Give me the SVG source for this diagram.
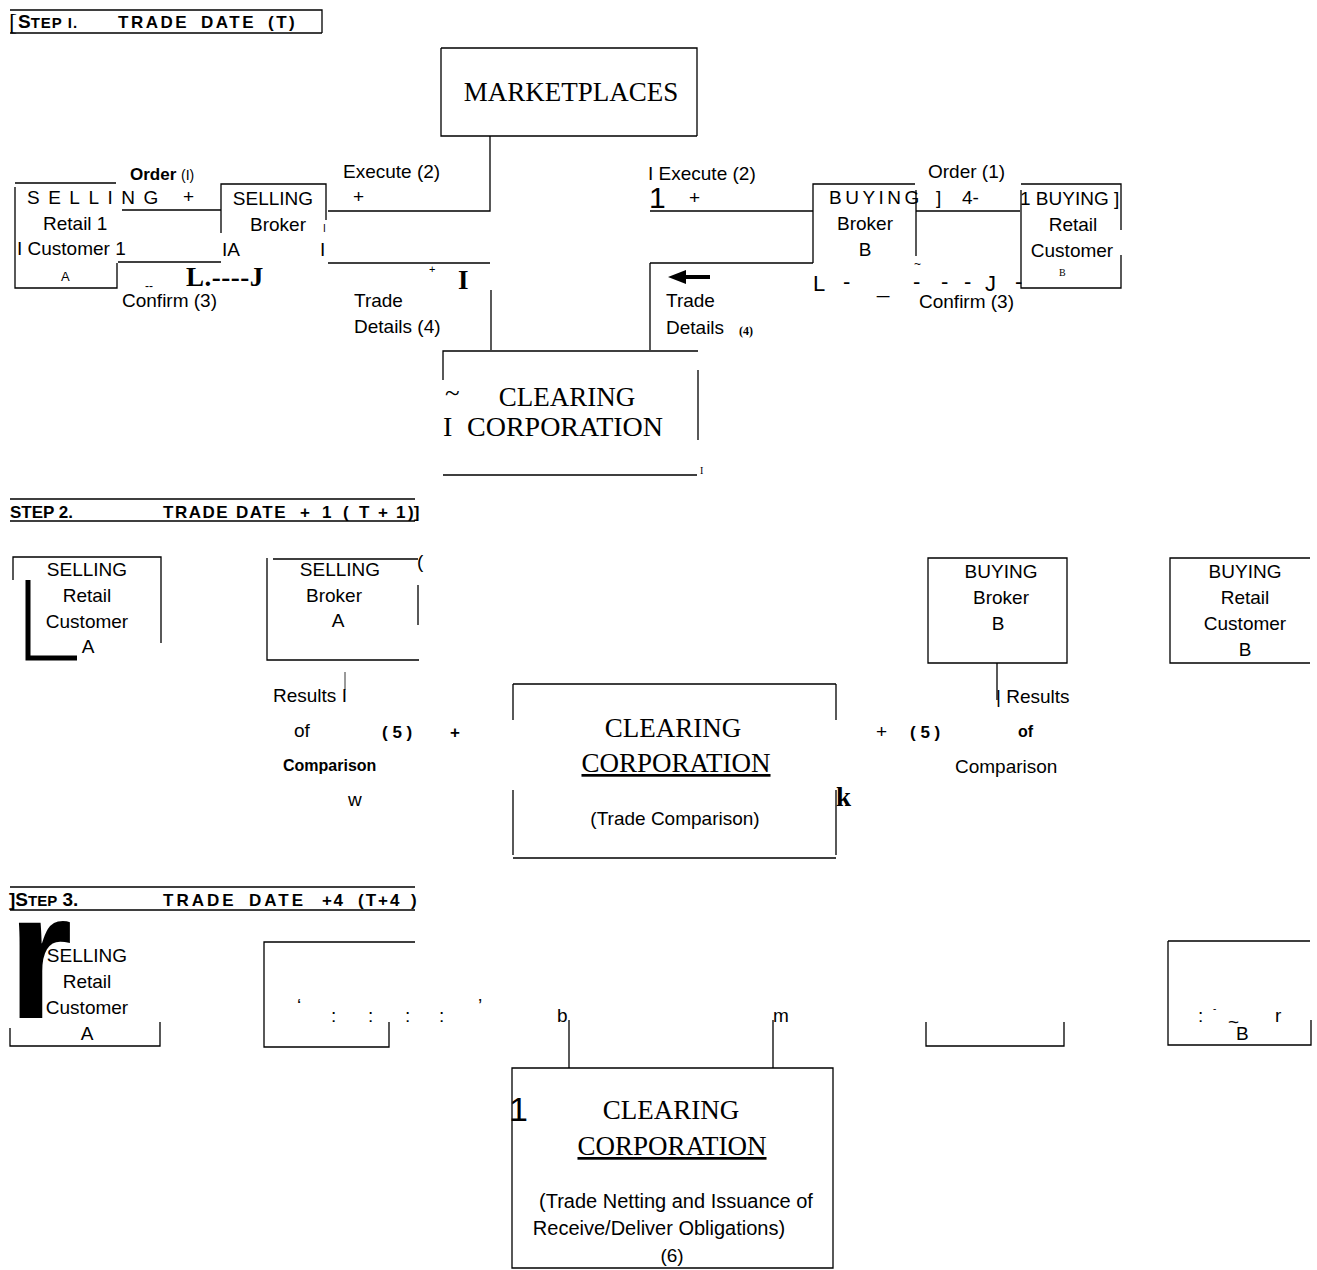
<svg xmlns="http://www.w3.org/2000/svg" width="1317" height="1270" viewBox="0 0 1317 1270">
<style>
.ln{stroke:#000;stroke-width:1.3;fill:none}
.s{font-family:"Liberation Sans",Arial,sans-serif;font-size:19px;fill:#000}
.sc{font-family:"Liberation Sans",Arial,sans-serif;font-size:19px;fill:#000;text-anchor:middle}
.n{font-family:"Liberation Sans Narrow","Liberation Sans",sans-serif;font-size:19px;fill:#000}
.sr{font-family:"Liberation Serif","Times New Roman",serif;font-size:27px;fill:#000}
.src{font-family:"Liberation Serif","Times New Roman",serif;font-size:27px;fill:#000;text-anchor:middle}
.h{font-family:"Liberation Sans",Arial,sans-serif;font-size:17px;font-weight:bold;fill:#000;letter-spacing:2.5px}
.b{font-family:"Liberation Sans",Arial,sans-serif;font-weight:bold;fill:#000}
</style>
<rect width="1317" height="1270" fill="#fff"/>

<g id="step1-header">
<path class="ln" d="M10 10H322V33M10 33H322"/>
<text x="9" y="30" class="sr" style="font-size:24px">[</text>
<text x="18" y="28" class="b" style="font-size:19px">S<tspan style="font-size:15px;letter-spacing:1px">TEP I.</tspan></text>
<text x="118" y="28" class="h">TRADE</text>
<text x="201" y="28" class="h">DATE</text>
<text x="268" y="28" class="h">(T)</text>
</g>

<g id="marketplaces">
<path class="ln" d="M441 48H697V136M441 48V136H697"/>
<text x="571" y="101" class="src">MARKETPLACES</text>
</g>

<g id="connectors">
<path class="ln" d="M490 136V211H328"/>
<path class="ln" d="M328 263H490"/>
<path class="ln" d="M491 290V350"/>
<path class="ln" d="M650 211H813"/>
<path class="ln" d="M650 263H813"/>
<path class="ln" d="M650 263V350"/>
<path class="ln" d="M122 210H221"/>
<path class="ln" d="M118 262H221"/>
<path class="ln" d="M916 211H1020"/>
<path class="ln" d="M997 663V700"/>
<path class="ln" d="M569 1020V1068"/>
<path class="ln" d="M773 1020V1068"/>
<path d="M668 277L686 270V275H710V279H686V284Z" fill="#000"/>
</g>

<g id="step1-selling-customer">
<path class="ln" d="M15 183H116M15 187V288H117V263"/>
<text x="27" y="204" class="s" style="letter-spacing:8.5px">SELLING</text>
<text x="183" y="203" class="s">+</text>
<text x="43" y="230" class="s">Retail  1</text>
<text x="17" y="255" class="s">I Customer 1</text>
<text x="61" y="281" class="s" style="font-size:13px">A</text>
<text x="130" y="180" class="b" style="font-size:17px">Order <tspan style="font-weight:normal;font-size:14px">(I)</tspan></text>
<text x="145" y="290" class="s" style="font-size:12px">--</text>
<text x="186" y="286" class="sr" style="font-weight:bold;letter-spacing:0.5px">L.----J</text>
<text x="122" y="307" class="s">Confirm (3)</text>
</g>

<g id="step1-selling-broker">
<path class="ln" d="M221 233V184H326V220"/>
<text x="273" y="205" class="sc">SELLING</text>
<text x="278" y="231" class="sc">Broker</text>
<text x="222" y="256" class="s">IA</text>
<text x="320" y="256" class="s">I</text>
<text x="323" y="232" class="s" style="font-size:10px">I</text>
<text x="343" y="178" class="s">Execute (2)</text>
<text x="353" y="203" class="s">+</text>
<text x="429" y="273" class="s" style="font-size:11px">+</text>
<text x="458" y="289" class="sr" style="font-weight:bold">I</text>
<text x="354" y="307" class="s">Trade</text>
<text x="354" y="333" class="s">Details (4)</text>
</g>

<g id="step1-buying-broker">
<path class="ln" d="M813 263V184H915M916 190V256"/>
<text x="829" y="204" class="s" style="letter-spacing:3.5px">BUYING</text>
<text x="936" y="204" class="s">]</text>
<text x="962" y="204" class="s">4-</text>
<text x="865" y="230" class="sc">Broker</text>
<text x="865" y="256" class="sc">B</text>
<text x="813" y="291" class="s" style="font-size:22px">L</text>
<text x="843" y="289" class="s" style="font-size:22px">-</text>
<text x="877" y="293" class="s" style="font-size:22px">_</text>
<text x="913" y="289" class="s" style="font-size:22px">-</text>
<text x="941" y="289" class="s" style="font-size:22px">-</text>
<text x="964" y="289" class="s" style="font-size:22px">-</text>
<text x="985" y="291" class="s" style="font-size:22px">J</text>
<text x="1015" y="289" class="s" style="font-size:22px">-</text>
<text x="914" y="268" class="s" style="font-size:12px">~</text>
<text x="648" y="180" class="s">I Execute (2)</text>
<text x="649" y="208" class="s" style="font-size:30px">1</text>
<text x="689" y="204" class="s">+</text>
<text x="666" y="307" class="s">Trade</text>
<text x="666" y="334" class="s">Details</text>
<text x="739" y="335" class="sr" style="font-size:12px;font-weight:bold">(4)</text>
</g>

<g id="step1-buying-customer">
<path class="ln" d="M1021 184H1121V230M1121 255V288H1021V190"/>
<text x="1020" y="205" class="s">1 BUYING ]</text>
<text x="1073" y="231" class="sc">Retail</text>
<text x="1072" y="257" class="sc">Customer</text>
<text x="1059" y="276" class="sr" style="font-size:10px">B</text>
<text x="928" y="178" class="s">Order (1)</text>
<text x="919" y="308" class="s">Confirm (3)</text>
</g>

<g id="step1-clearing">
<path class="ln" d="M443 380V351H698M698 370V440M443 475H697"/>
<text x="445" y="402" class="sr">~</text>
<text x="567" y="406" class="src">CLEARING</text>
<text x="443" y="436" class="sr" style="font-size:28px">I</text>
<text x="467" y="436" class="sr" style="font-size:28px">CORPORATION</text>
<text x="700" y="474" class="sr" style="font-size:10px">I</text>
</g>

<g id="step2-header">
<path class="ln" d="M10 499H415M10 521H415"/>
<text x="10" y="518" class="b" style="font-size:17px">STEP  2.</text>
<text x="163" y="518" class="h" style="letter-spacing:1.5px">TRADE</text>
<text x="236" y="518" class="h" style="letter-spacing:1.5px">DATE</text>
<text x="300" y="518" class="h">+</text>
<text x="322" y="518" class="h">1</text>
<text x="343" y="518" class="h">(</text>
<text x="359" y="518" class="h">T</text>
<text x="378" y="518" class="h">+</text>
<text x="396" y="518" class="h">1</text>
<text x="408" y="518" class="h" style="letter-spacing:0">)]</text>
</g>

<g id="step2-selling-customer">
<path class="ln" d="M13 580V557H161V643"/>
<path d="M28 580V658H77" fill="none" stroke="#000" stroke-width="5"/>
<text x="87" y="576" class="sc">SELLING</text>
<text x="87" y="602" class="sc">Retail</text>
<text x="87" y="628" class="sc">Customer</text>
<text x="88" y="653" class="n" style="text-anchor:middle">A</text>
</g>

<g id="step2-selling-broker">
<path class="ln" d="M273 559H418M267 558V660H419M418 585V625"/>
<text x="417" y="568" class="s">(</text>
<text x="340" y="576" class="sc">SELLING</text>
<text x="334" y="602" class="sc">Broker</text>
<text x="338" y="627" class="n" style="text-anchor:middle">A</text>
<path class="ln" d="M345 672V690" style="stroke-width:0.8"/>
<text x="273" y="702" class="s">Results I</text>
<text x="294" y="737" class="s">of</text>
<text x="382" y="738" class="b" style="font-size:17px">( 5 )</text>
<text x="450" y="738" class="b" style="font-size:17px">+</text>
<text x="283" y="771" class="b" style="font-size:16px">Comparison</text>
<text x="348" y="806" class="s">w</text>
</g>

<g id="step2-clearing">
<path class="ln" d="M513 684H836M513 684V720M513 790V855M836 684V720M836 790V855M513 858H836"/>
<text x="673" y="737" class="src">CLEARING</text>
<text x="676" y="772" class="src" style="text-decoration:underline">CORPORATION </text>
<text x="675" y="825" class="sc">(Trade  Comparison)</text>
<text x="836" y="806" class="sr" style="font-weight:bold">k</text>
</g>

<g id="step2-buying-broker">
<path class="ln" d="M928 558H1067V663H928Z"/>
<text x="1001" y="578" class="sc">BUYING</text>
<text x="1001" y="604" class="sc">Broker</text>
<text x="998" y="630" class="sc">B</text>
<text x="876" y="738" class="s">+</text>
<text x="910" y="738" class="b" style="font-size:17px">( 5 )</text>
<text x="996" y="703" class="s">| Results</text>
<text x="1018" y="737" class="b" style="font-size:16px">of</text>
<text x="955" y="773" class="s">Comparison</text>
</g>

<g id="step2-buying-customer">
<path class="ln" d="M1310 558H1170V663H1310"/>
<text x="1245" y="578" class="sc">BUYING</text>
<text x="1245" y="604" class="sc">Retail</text>
<text x="1245" y="630" class="sc">Customer</text>
<text x="1245" y="656" class="sc">B</text>
</g>

<g id="step3-header">
<path class="ln" d="M10 887H415M10 910H415"/>
<text x="9" y="906" class="b" style="font-size:19px">]S<tspan style="font-size:15px">TEP</tspan> 3.</text>
<text x="163" y="906" class="h" style="letter-spacing:3px">TRADE</text>
<text x="249" y="906" class="h" style="letter-spacing:3px">DATE</text>
<text x="322" y="906" class="h" style="letter-spacing:1.5px">+4</text>
<text x="358" y="906" class="h" style="letter-spacing:2px">(T+4</text>
<text x="411" y="906" class="h">)</text>
</g>

<g id="step3-selling-customer">
<path class="ln" d="M10 1028V1046H160V1022"/>
<text x="87" y="962" class="sc">SELLING</text>
<text x="87" y="988" class="sc">Retail</text>
<text x="87" y="1014" class="sc">Customer</text>
<text x="87" y="1040" class="sc">A</text>
<text x="0" y="0" class="b" transform="translate(8 1018) scale(0.92 1)" style="font-size:180px">r</text>
</g>

<g id="step3-selling-broker">
<path class="ln" d="M415 942H264V1047H389V1022"/>
<text x="297" y="1012" class="s">‘</text>
<text x="331" y="1022" class="s">:</text>
<text x="368" y="1022" class="s">:</text>
<text x="405" y="1022" class="s">:</text>
<text x="439" y="1022" class="s">:</text>
<text x="478" y="1012" class="s">’</text>
<text x="557" y="1022" class="s">b</text>
<text x="773" y="1022" class="n">m</text>
</g>

<g id="step3-buying-broker">
<path class="ln" d="M926 1022V1046H1064V1022"/>
</g>

<g id="step3-buying-customer">
<path class="ln" d="M1168 941H1310M1168 941V1045H1311V1020"/>
<text x="1198" y="1022" class="s">:</text>
<text x="1213" y="1012" class="s" style="font-size:10px">-</text>
<text x="1228" y="1028" class="s">~</text>
<text x="1275" y="1022" class="n">r</text>
<text x="1236" y="1040" class="n">B</text>
</g>

<g id="step3-clearing">
<path class="ln" d="M512 1068H833V1268H512Z"/>
<text x="509" y="1121" class="s" style="font-size:34px">1</text>
<text x="671" y="1119" class="src">CLEARING</text>
<text x="672" y="1155" class="src" style="text-decoration:underline">CORPORATION </text>
<text x="676" y="1208" class="sc" style="font-size:20px">(Trade Netting and Issuance of</text>
<text x="659" y="1235" class="sc" style="font-size:20px">Receive/Deliver  Obligations)</text>
<text x="672" y="1262" class="n" style="text-anchor:middle">(6)</text>
</g>
</svg>
